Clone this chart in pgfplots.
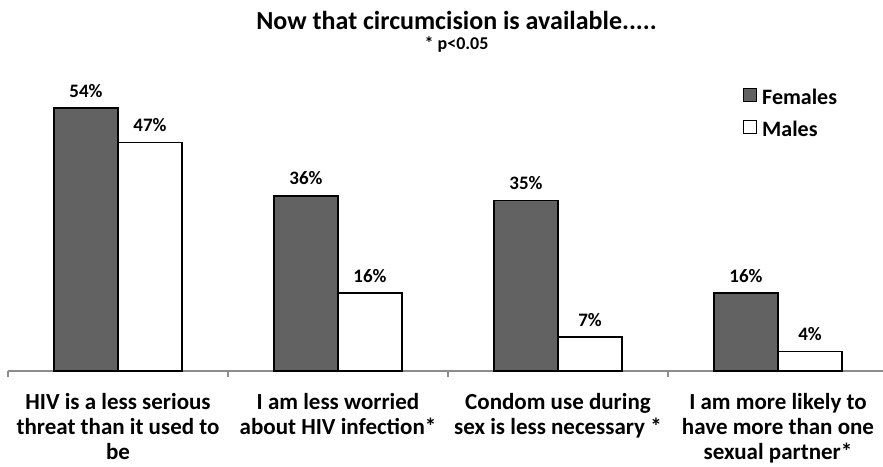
\documentclass[border=0pt]{standalone}
\usepackage{fontspec}
\setmainfont{Carlito}
\usepackage{pgfplots}
\pgfplotsset{compat=1.18}
\definecolor{femfill}{RGB}{98,98,98}
\definecolor{axgray}{RGB}{140,140,140}
\begin{document}
\begin{tikzpicture}
\useasboundingbox (-8pt,-95pt) rectangle (875pt,371pt);
\begin{axis}[
  at={(0pt,0pt)}, anchor=south west,
  width=880pt, height=292pt, scale only axis,
  xmin=-0.5, xmax=3.5, ymin=0, ymax=60,
  ybar=0pt, bar width=64pt,
  axis x line*=bottom, axis y line=none,
  x axis line style={draw=axgray, line width=1.5pt, -},
  xtick={-0.5,0.5,1.5,2.5,3.5},
  x tick label as interval,
  xticklabels={
    {HIV is a less serious\\threat than it used to\\be},
    {I am less worried\\about HIV infection*},
    {Condom use during\\sex is less necessary *},
    {I am more likely to\\have more than one\\sexual partner*}},
  xticklabel style={align=center, anchor=north, inner sep=0pt, yshift=-16pt,
    font=\fontsize{23}{25}\selectfont\bfseries},
  major tick length=6pt, tick align=outside,
  tick style={draw=axgray, line width=1.5pt},
  /pgf/number format/assume math mode=true,
  nodes near coords={\pgfmathprintnumber{\pgfplotspointmeta}\%},
  every node near coord/.append style={font=\fontsize{19}{22}\selectfont\bfseries,
    inner sep=0pt, yshift=10pt, black},
  legend style={draw=none, fill=none, at={(0.835,0.97)}, anchor=north west,
    inner sep=0pt, font=\fontsize{22}{26}\selectfont\bfseries,
    nodes={inner sep=0pt, text height=16pt, text depth=5pt},
    row sep=11pt,
    /tikz/every odd column/.style={column sep=5pt}},
  legend cell align=left,
  legend image code/.code={\draw[#1, line width=1.2pt] (0pt,-3pt) rectangle (13pt,10pt);},
  clip=false,
]
\addplot[fill=femfill, draw=black, line width=1.5pt]
  coordinates {(0,54) (1,36) (2,35) (3,16)};
\addplot[fill=white, draw=black, line width=1.5pt]
  coordinates {(0,47) (1,16) (2,7) (3,4)};
\legend{Females, Males}
\end{axis}
\node[font=\fontsize{26}{30}\selectfont\bfseries, anchor=base]
  at (448.5pt,341pt) {Now that circumcision is available.....};
\node[font=\fontsize{18}{20}\selectfont\bfseries, anchor=base]
  at (448.5pt,321pt) {* p<0.05};
\end{tikzpicture}
\end{document}
